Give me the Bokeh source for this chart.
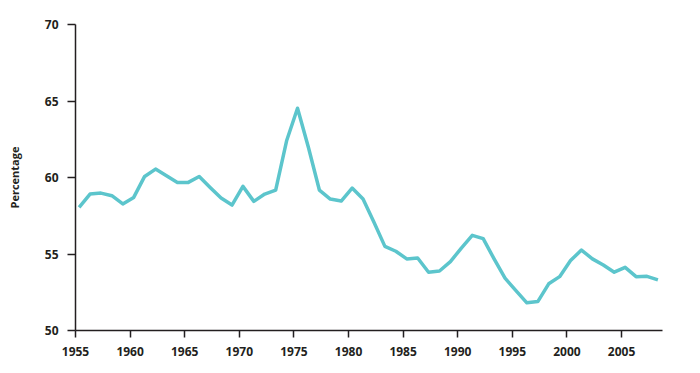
from bokeh.plotting import figure
from bokeh.models import Range1d, FixedTicker
from bokeh.embed import file_html
from bokeh.resources import INLINE

years = list(range(1955, 2009))
values = [58.05, 58.92, 58.98, 58.81, 58.27, 58.70, 60.07, 60.55, 60.11, 59.68,
          59.68, 60.07, 59.35, 58.66, 58.20, 59.42, 58.44, 58.92, 59.18, 62.40,
          64.53, 61.96, 59.18, 58.59, 58.46, 59.31, 58.59, 57.07, 55.50, 55.18,
          54.68, 54.74, 53.81, 53.89, 54.50, 55.39, 56.22, 56.00, 54.68, 53.42,
          52.61, 51.81, 51.89, 53.05, 53.52, 54.57, 55.26, 54.68, 54.28, 53.81,
          54.13, 53.52, 53.54, 53.31]
x_ticks = [1955, 1960, 1965, 1970, 1975, 1980, 1985, 1990, 1995, 2000, 2005]
y_ticks = [50, 55, 60, 65, 70]

X_MIN, X_MAX = 1955, 2008.75
OFFSET = 0.33
xs = [max(X_MIN, y + OFFSET) for y in years]

TEXT = "#231f20"
FONT = "Open Sans"

p = figure(width=684, height=365, output_backend="svg", toolbar_location=None,
           x_range=Range1d(X_MIN, X_MAX), y_range=Range1d(50, 70),
           min_border_left=75, min_border_right=22, min_border_top=24,
           min_border_bottom=35)
p.outline_line_color = None
p.grid.visible = False
p.background_fill_color = "white"
p.border_fill_color = "white"

p.line(xs, values, line_color="#5cc5cc", line_width=3.5, line_join="round")

p.xaxis.ticker = FixedTicker(ticks=x_ticks)
p.yaxis.ticker = FixedTicker(ticks=y_ticks)
for ax in (p.xaxis[0], p.yaxis[0]):
    ax.axis_line_color = TEXT
    ax.axis_line_width = 1.5
    ax.major_tick_line_color = TEXT
    ax.major_tick_line_width = 1.5
    ax.major_tick_in = 0
    ax.minor_tick_line_color = None
    ax.major_label_text_font = FONT
    ax.major_label_text_font_size = "12px"
    ax.major_label_text_font_style = "bold"
    ax.major_label_text_color = TEXT

p.yaxis.major_tick_out = 8
p.xaxis.major_tick_out = 7
p.yaxis.major_label_standoff = 9
p.xaxis.major_label_standoff = 9

p.yaxis.axis_label = "Percentage"
p.yaxis.axis_label_text_font = FONT
p.yaxis.axis_label_text_font_size = "11px"
p.yaxis.axis_label_text_font_style = "bold"
p.yaxis.axis_label_text_color = TEXT
p.yaxis.axis_label_standoff = 20

open("out.html", "w").write(file_html(p, INLINE))
